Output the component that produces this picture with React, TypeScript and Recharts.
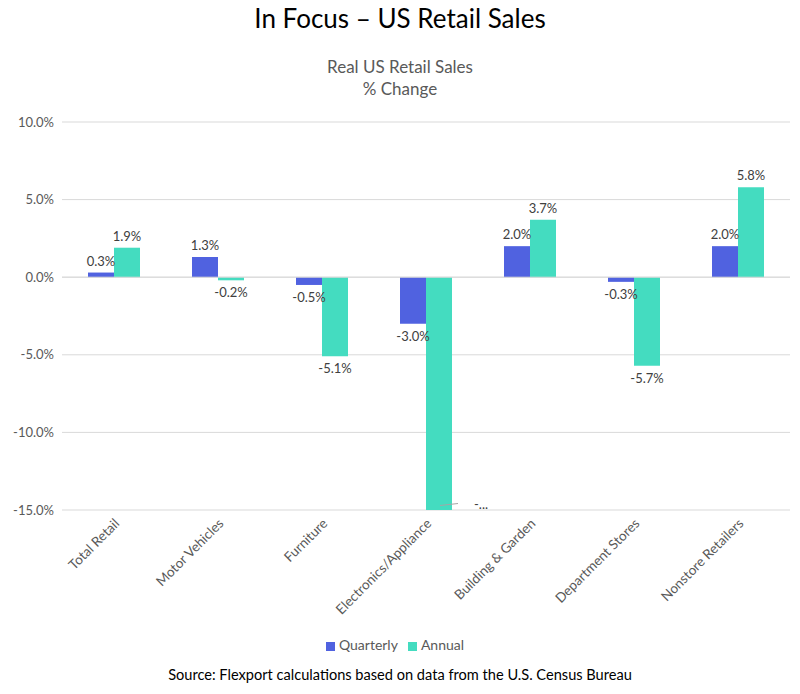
import React from 'react';
import { BarChart, Bar, XAxis, YAxis, CartesianGrid, Legend, LabelList, ReferenceLine } from 'recharts';

const categories = [
  'Total Retail',
  'Motor Vehicles',
  'Furniture',
  'Electronics/Appliance',
  'Building & Garden',
  'Department Stores',
  'Nonstore Retailers',
];
const quarterly = [0.3, 1.3, -0.5, -3.0, 2.0, -0.3, 2.0];
// electronics annual runs past the -15% floor, so excel shows a cut "-..." label
const annual = [1.9, -0.2, -5.1, -15.6, 3.7, -5.7, 5.8];
const yTicks = [-15, -10, -5, 0, 5, 10];

const data = categories.map((name, i) => ({ name, quarterly: quarterly[i], annual: annual[i] }));

const FONT = 'Lato, "Open Sans", sans-serif';
const BLUE = '#5062E0';
const TEAL = '#44DCC0';
const Y_MIN = -15;

const RotatedTick = (props: any) => {
  const { x, y, payload } = props;
  return (
    <g transform={`translate(${x + 3},${y + 3})`}>
      <text x={0} y={0} dy="0.35em" textAnchor="end" transform="rotate(-45)" fill="#595959" fontSize={13.5} fontFamily={FONT}>
        {payload.value}
      </text>
    </g>
  );
};

const ValueLabel = (props: any) => {
  const { x, y, width, height, value } = props;
  const top = Math.min(y, y + height);
  const bottom = Math.max(y, y + height);
  const cx = x + width / 2;
  if (value < Y_MIN) {
    const floor = 509.5;
    return (
      <g>
        <line x1={x + width - 12} y1={floor - 4} x2={x + width + 6} y2={floor - 6} stroke="#a6a6a6" />
        <text x={x + width + 22} y={floor - 1} fill="#404040" fontSize={13} fontFamily={FONT}>-...</text>
      </g>
    );
  }
  const ty = value >= 0 ? top - 7 : bottom + 17;
  return (
    <text x={cx} y={ty} textAnchor="middle" fill="#404040" fontSize={13} fontFamily={FONT}>
      {value.toFixed(1)}%
    </text>
  );
};

const legendOrder: Record<string, number> = { quarterly: 0, annual: 1 };

const App: React.FC = () => {
  return (
    <div style={{ position: 'absolute', left: 0, top: 0, width: 800, height: 694, background: '#fff', fontFamily: FONT }}>
      <div style={{ position: 'absolute', top: 2, width: 800, textAlign: 'center', fontSize: 26, color: '#000' }}>
        In Focus – US Retail Sales
      </div>
      <div style={{ position: 'absolute', top: 56, width: 800, textAlign: 'center', fontSize: 17, color: '#595959', lineHeight: '22px' }}>
        Real US Retail Sales
        <br />% Change
      </div>

      <BarChart
        width={800}
        height={694}
        data={data}
        margin={{ top: 122, right: 10, left: 0, bottom: 0 }}
        barGap={0}
        barSize={26}
      >
        <CartesianGrid vertical={false} stroke="#d9d9d9" />
        <XAxis dataKey="name" height={184} axisLine={false} tickLine={false} interval={0} tick={<RotatedTick />} />
        <YAxis
          width={62}
          domain={[Y_MIN, 10]}
          ticks={yTicks}
          allowDataOverflow
          axisLine={false}
          tickLine={false}
          tickFormatter={(v: number) => `${v.toFixed(1)}%`}
          tick={{ fill: '#595959', fontSize: 13, fontFamily: FONT }}
        />
        <ReferenceLine y={0} stroke="#d9d9d9" />
        <Legend
          verticalAlign="middle"
          align="center"
          iconType="square"
          iconSize={9}
          itemSorter={(item: any) => legendOrder[item.dataKey] ?? 0}
          wrapperStyle={{ top: 636, left: 0, width: 800, fontSize: 14, fontFamily: FONT }}
          formatter={(v: string) => <span style={{ color: '#595959' }}>{v}</span>}
        />
        <Bar dataKey="quarterly" name="Quarterly" fill={BLUE} isAnimationActive={false}>
          <LabelList dataKey="quarterly" content={<ValueLabel />} />
        </Bar>
        <Bar dataKey="annual" name="Annual" fill={TEAL} isAnimationActive={false}>
          <LabelList dataKey="annual" content={<ValueLabel />} />
        </Bar>
      </BarChart>

      <div style={{ position: 'absolute', top: 666, width: 800, textAlign: 'center', fontSize: 14.6, color: '#000' }}>
        Source: Flexport calculations based on data from the U.S. Census Bureau
      </div>
    </div>
  );
};

export default App;
